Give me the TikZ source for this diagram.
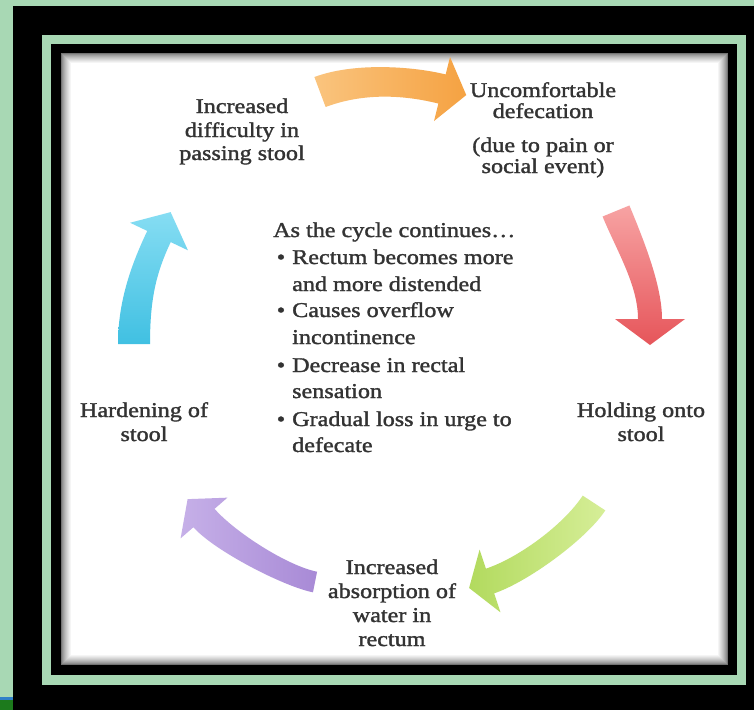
\documentclass[tikz,border=0pt]{standalone}
\usepackage{fontspec}
\setmainfont{Liberation Serif}[FakeStretch=1.15,FakeBold=1.5]
\usetikzlibrary{calc}
\definecolor{bggreen}{HTML}{A8D8B4}
\definecolor{txtgray}{HTML}{333333}
\definecolor{orA}{HTML}{FAC47E}
\definecolor{orB}{HTML}{F5A242}
\definecolor{rdA}{HTML}{F7A3A3}
\definecolor{rdB}{HTML}{E6555A}
\definecolor{grA}{HTML}{D6EE98}
\definecolor{grB}{HTML}{B2DA5E}
\definecolor{puA}{HTML}{C6B0E8}
\definecolor{puB}{HTML}{A88AD6}
\definecolor{blA}{HTML}{86DDF3}
\definecolor{blB}{HTML}{40C0E2}
\definecolor{stripblue}{HTML}{2F80C8}
\definecolor{stripgreen}{HTML}{1C7A1C}
% #1 start, #2 ctrl1, #3 ctrl2, #4 end (head base centre), #5 tail half width,
% #6 end half width, #7 head half width, #8 head length, #9 shading
\newcommand\cyclearrow[9]{%
  \coordinate (s1) at ($(#1)!#5!90:(#2)$);
  \coordinate (s2) at ($(#1)!#5!-90:(#2)$);
  \coordinate (e1) at ($(#4)!#6!-90:(#3)$);
  \coordinate (e2) at ($(#4)!#6!90:(#3)$);
  \coordinate (ca) at ($(#2)+(s1)-(#1)$);
  \coordinate (cb) at ($(#2)+(s2)-(#1)$);
  \coordinate (da) at ($(#3)+(e1)-(#4)$);
  \coordinate (db) at ($(#3)+(e2)-(#4)$);
  \coordinate (h1) at ($(#4)!#7!-90:(#3)$);
  \coordinate (h2) at ($(#4)!#7!90:(#3)$);
  \coordinate (tp) at ($(#4)!#8!180:(#3)$);
  \shade[#9] (s1) .. controls (ca) and (da) .. (e1) -- (h1) -- (tp) -- (h2)
     -- (e2) .. controls (db) and (cb) .. (s2) -- cycle;
}
\tikzset{
  lbl/.style={font=\fontsize{21}{24}\selectfont, text=txtgray, inner sep=0pt, anchor=base},
  lst/.style={font=\fontsize{21}{24}\selectfont, text=txtgray, inner sep=0pt, anchor=base west},
  bul/.style={font=\fontsize{21}{24}\selectfont, text=txtgray, inner sep=0pt, anchor=base}
}
\begin{document}
\begin{tikzpicture}[x=1pt,y=-1pt]
\useasboundingbox (0,0) rectangle (754,710);
% frames
\fill[bggreen] (0,0) rectangle (754,710);
\fill[black] (13,6) rectangle (754,710);
\fill[bggreen] (42,35) rectangle (746,685);
\fill[black] (51,44) rectangle (737,675);
\fill[stripblue] (0,697) rectangle (13,699.5);
\fill[stripgreen] (0,699.5) rectangle (13,710);
% panel with inner shadow
\fill[black!55] (61,53) rectangle (728,665);
\foreach \i in {1,...,10}{
  \pgfmathsetmacro\c{100*(\i/10)^0.7}
  \fill[white!\c!black!55] (61+\i,53+\i) rectangle (728-\i,665-\i);
}
% arrows
\cyclearrow{320,92}{360,77}{410,81}{442,89}{16pt}{15pt}{33pt}{25pt}{left color=orA,right color=orB}
\cyclearrow{616,211}{630,245}{650,285}{650,319}{14.5pt}{12pt}{35pt}{26pt}{top color=rdA,bottom color=rdB}
\cyclearrow{594,503}{575,532}{523,570}{490,581}{13.5pt}{13pt}{33pt}{22pt}{right color=grA,left color=grB}
\cyclearrow{315,582}{285,576}{224,541}{204,518}{10.5pt}{14pt}{31pt}{25pt}{left color=puA,right color=puB}
\cyclearrow{134,344}{134,300}{144,268}{159,236.5}{16pt}{13pt}{32pt}{27pt}{top color=blA,bottom color=blB}
% labels
\node[lbl] (a1) at (242,113) {Increased};
\node[lbl] (a2) at (242,137) {difficulty in};
\node[lbl] (a3) at (242,160) {passing stool};
\node[lbl] (b1) at (543,97) {Uncomfortable};
\node[lbl] (b2) at (543,118) {defecation};
\node[lbl] (b3) at (543,152) {(due to pain or};
\node[lbl] (b4) at (543,173) {social event)};
\node[lbl] (c1) at (641,417) {Holding onto};
\node[lbl] (c2) at (641,441) {stool};
\node[lbl] (d1) at (392,574) {Increased};
\node[lbl] (d2) at (392,598) {absorption of};
\node[lbl] (d3) at (392,622) {water in};
\node[lbl] (d4) at (392,646) {rectum};
\node[lbl] (e1) at (144,417) {Hardening of};
\node[lbl] (e2) at (144,441) {stool};
% centre text
\node[lst] (m0) at (273,237) {As the cycle continues…};
\node[bul] (p1) at (281,264) {\textbullet};
\node[lst] (m1) at (292,264) {Rectum becomes more};
\node[lst] (m2) at (292,291) {and more distended};
\node[bul] (p2) at (281,317) {\textbullet};
\node[lst] (m3) at (292,317) {Causes overflow};
\node[lst] (m4) at (292,344) {incontinence};
\node[bul] (p3) at (281,372) {\textbullet};
\node[lst] (m5) at (292,372) {Decrease in rectal};
\node[lst] (m6) at (292,398) {sensation};
\node[bul] (p4) at (281,426) {\textbullet};
\node[lst] (m7) at (292,426) {Gradual loss in urge to};
\node[lst] (m8) at (292,452) {defecate};
\end{tikzpicture}
\end{document}
